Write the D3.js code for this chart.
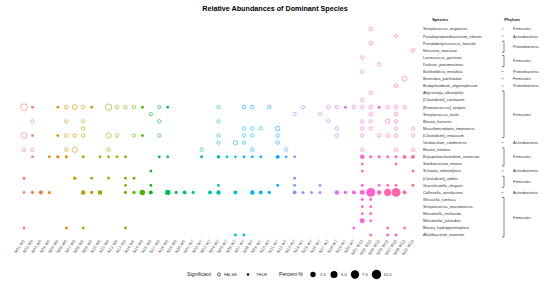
<!DOCTYPE html>
<html>
<head>
<meta charset="utf-8">
<script src="https://cdn.jsdelivr.net/npm/d3@7"></script>
<style>
  body { margin: 0; background: #fff; }
  svg text { font-family: "Liberation Sans", Arial, sans-serif; }
</style>
</head>
<body>
<div class="canva"></div>
<script>
// samples on the x axis (W0, W7, W12 visits)
const samples = [];
for (let i = 1; i <= 20; i++) samples.push("N" + String(i).padStart(2, "0") + " W0");
for (let i = 1; i <= 20; i++) samples.push("N" + String(i).padStart(2, "0") + " W7");
const samplesW12 = ["N01 W12", "N02 W12", "N04 W12", "N05 W12", "N07 W12", "N08 W12", "N10 W12"];
samplesW12.forEach(s => samples.push(s));

const species = [
  "Streptococcus_anginosus", "Pseudopropionibacterium_rubrum", "Pseudobutyricicoccus_faecalis",
  "Neisseria_macacae", "Lactococcus_garvieae", "Dialister_pneumosintes", "Burkholderia_metallica",
  "Breznakia_pachnodae", "Bradyrhizobium_oligotrophicum", "Abyssivirga_alkaniphila",
  "[Clostridium]_cocleatum", "[Ruminococcus]_torques", "Streptococcus_oralis", "Blautia_hansenii",
  "Massiliimicrobiota_timonensis", "[Clostridium]_innocuum", "Varibaculum_cambriense",
  "Blautia_hominis", "Erysipelatoclostridium_ramosum", "Solobacterium_moorei",
  "Schaalia_odontolytica", "[Clostridium]_indolis", "Granulicatella_elegans",
  "Collinsella_aerofaciens", "Weissella_confusa", "Streptococcus_macedonicus",
  "Mitsuokella_multacida", "Mitsuokella_jalaludinii", "Blautia_hydrogenotrophica",
  "Alkalibaculum_marinum"
];

// phylum blocks: [first row, last row, name]
const phyla = [
  [0, 0, "Firmicutes"], [1, 1, "Actinobacteria"], [2, 3, "Proteobacteria"],
  [4, 5, "Firmicutes"], [6, 6, "Proteobacteria"], [7, 7, "Firmicutes"],
  [8, 8, "Proteobacteria"], [9, 15, "Firmicutes"], [16, 16, "Actinobacteria"],
  [17, 19, "Firmicutes"], [20, 20, "Actinobacteria"], [21, 22, "Firmicutes"],
  [23, 23, "Actinobacteria"], [24, 29, "Firmicutes"]
];

// points: [species row, sample column, percent, significant]
const points = [
  [0,41,0.6,0],[1,44,0.6,0],[2,41,0.8,0],[3,46,0.6,0],[4,40,0.6,0],[5,42,0.6,0],
  [6,40,0.6,0],[7,45,2.0,0],[8,44,0.6,0],[9,41,0.6,0],[10,40,0.6,0],
  [11,0,4.5,0],[11,1,0.3,1],[11,4,0.3,1],[11,5,0.8,0],[11,6,2.0,0],[11,7,0.8,0],[11,8,0.3,1],
  [11,10,4.0,0],[11,11,0.6,0],[11,12,0.6,0],[11,13,0.6,0],[11,14,0.3,1],[11,16,0.6,0],[11,17,0.3,1],
  [11,23,0.6,0],[11,26,0.8,0],[11,27,0.8,0],[11,29,0.6,0],[11,33,0.6,0],[11,36,0.6,0],[11,37,0.6,0],
  [11,38,0.4,1],[11,39,0.6,0],[11,40,0.6,0],[11,41,0.6,0],[11,42,0.4,1],[11,43,0.6,0],[11,44,0.6,0],[11,45,0.6,0],
  [12,15,0.6,0],[12,32,0.6,0],[12,35,0.6,0],[12,41,0.6,0],[12,44,0.6,0],
  [13,1,0.6,0],[13,5,0.6,0],[13,7,0.6,0],[13,16,0.6,0],[13,23,0.6,0],[13,36,0.6,0],[13,40,0.6,0],
  [13,41,0.6,0],[13,43,1.5,0],[13,44,0.6,0],
  [14,7,0.6,0],[14,26,0.6,0],[14,27,0.6,0],[14,28,0.6,0],[14,30,1.5,0],[14,37,0.6,0],[14,40,0.6,0],
  [14,41,0.6,0],[14,44,0.6,0],[14,46,0.6,0],
  [15,0,3.0,0],[15,1,0.3,1],[15,4,0.3,1],[15,5,0.8,0],[15,6,0.8,0],[15,7,0.8,0],[15,10,2.5,0],
  [15,11,0.6,0],[15,13,0.6,0],[15,14,0.3,1],[15,16,0.6,0],[15,23,0.6,0],[15,26,0.6,0],[15,27,0.6,0],
  [15,30,0.6,0],[15,37,0.6,0],[15,40,0.6,0],[15,42,0.6,0],[15,43,0.6,0],[15,44,0.6,0],[15,46,0.6,0],
  [16,23,0.6,0],[16,25,1.5,0],[16,26,0.6,0],[16,30,0.6,0],
  [17,0,0.6,0],[17,1,0.6,0],[17,5,0.6,0],[17,6,2.5,0],[17,10,0.6,0],[17,21,0.6,0],[17,27,0.6,0],
  [17,31,0.6,0],[17,40,0.6,0],[17,44,0.6,0],[17,46,0.6,0],
  [18,1,0.3,1],[18,3,0.3,1],[18,4,0.6,1],[18,5,0.4,1],[18,7,0.4,1],[18,9,0.3,1],[18,10,0.3,1],
  [18,11,0.3,1],[18,12,0.3,1],[18,16,0.3,1],[18,17,0.3,1],[18,21,0.4,1],[18,23,0.8,1],[18,24,0.3,1],
  [18,25,0.3,1],[18,26,0.3,1],[18,27,0.3,1],[18,28,0.3,1],[18,30,1.0,1],[18,31,0.3,1],[18,32,0.3,1],
  [18,40,1.5,1],[18,41,0.4,1],[18,42,0.4,1],[18,43,0.4,1],[18,44,0.4,1],[18,45,1.0,1],[18,46,1.0,1],
  [19,40,0.3,1],[19,44,0.3,1],
  [20,15,0.3,1],[20,40,0.3,1],[20,46,0.3,1],
  [21,0,0.4,1],[21,6,0.6,1],[21,8,0.3,1],[21,10,0.3,1],[21,12,0.3,1],[21,13,0.3,1],[21,32,0.3,1],
  [22,12,0.3,1],[22,15,0.3,1],[22,23,0.3,1],[22,30,0.3,1],[22,32,0.3,1],[22,35,0.3,1],[22,40,0.4,1],
  [22,42,0.3,1],[22,43,0.3,1],[22,44,0.3,1],[22,46,0.4,1],
  [23,0,0.3,1],[23,1,0.5,1],[23,2,1.2,1],[23,3,0.4,1],[23,7,1.5,1],[23,8,0.5,1],[23,9,1.5,1],
  [23,12,0.5,1],[23,13,0.6,1],[23,14,2.5,1],[23,15,1.0,1],[23,17,2.5,1],[23,18,0.5,1],[23,19,1.0,1],
  [23,20,0.5,1],[23,22,1.0,1],[23,23,1.5,1],[23,25,1.0,1],[23,27,1.5,1],[23,28,1.0,1],[23,29,0.5,1],
  [23,32,1.0,1],[23,33,0.4,1],[23,34,0.4,1],[23,35,0.4,1],[23,37,1.5,1],[23,38,0.6,1],[23,39,1.0,1],
  [23,40,2.0,1],[23,41,9.0,1],[23,42,1.5,1],[23,43,5.0,1],[23,44,9.0,1],[23,45,1.0,1],
  [24,40,0.3,1],[24,41,0.3,1],[25,40,0.3,1],[25,41,0.3,1],[26,40,0.3,1],[26,41,0.3,1],
  [27,40,2.0,1],[27,41,0.3,1],
  [28,0,0.3,1],[28,5,0.3,1],[28,7,0.3,1],[28,12,0.3,1],[28,39,0.3,1],[28,43,0.3,1],[28,45,0.3,1],
  [29,25,0.3,1],[29,26,0.3,1],[29,41,0.3,1],[29,43,0.3,1],[29,44,0.3,1]
];

const sigLabels = ["FALSE", "TRUE"];
const sizeBreaks = [2.5, 5.0, 7.5, 10.0];

// R style hcl() (polar LUV) -> hex, used for the ggplot hue palette
function hclR(h, c, l) {
  const Xn = 95.047, Yn = 100, Zn = 108.883;
  const un = 4 * Xn / (Xn + 15 * Yn + 3 * Zn), vn = 9 * Yn / (Xn + 15 * Yn + 3 * Zn);
  const hr = h * Math.PI / 180;
  const U = c * Math.cos(hr), V = c * Math.sin(hr);
  const Y = l > 8 ? Yn * Math.pow((l + 16) / 116, 3) : Yn * l / 903.3;
  const up = U / (13 * l) + un, vp = V / (13 * l) + vn;
  const X = 9 * Y * up / (4 * vp);
  const Z = -X / 3 - 5 * Y + 3 * Y / vp;
  const x = X / 100, y = Y / 100, z = Z / 100;
  const lin = [
    3.240479 * x - 1.53715 * y - 0.498535 * z,
    -0.969256 * x + 1.875992 * y + 0.041556 * z,
    0.055648 * x - 0.204043 * y + 1.057311 * z
  ];
  const g = lin.map(v => {
    v = v <= 0.0031308 ? 12.92 * v : 1.055 * Math.pow(v, 1 / 2.4) - 0.055;
    return Math.round(Math.max(0, Math.min(1, v)) * 255);
  });
  return d3.rgb(g[0], g[1], g[2]).formatHex();
}

const n = samples.length;
const hues = d3.range(n).map(i => 15 + i * 360 / n);
const color = d3.scaleOrdinal().domain(samples).range(hues.map(h => hclR(h, 100, 65)));

const svg = d3.select(".canva").append("svg")
  .attr("width", 550)
  .attr("height", 286);

const x = d3.scalePoint().domain(samples).range([24, 413]);
const y = d3.scalePoint().domain(species).range([29, 235]);
const r = d3.scaleSqrt().domain([0, 10]).range([0.7, 4.7]);

// title
svg.append("text")
  .attr("x", 275).attr("y", 10.5)
  .attr("text-anchor", "middle")
  .attr("font-size", 7.2).attr("font-weight", "bold")
  .attr("fill", "#000")
  .text("Relative Abundances of Dominant Species");

// points
const plot = svg.append("g");
plot.selectAll("circle")
  .data(points)
  .enter()
  .append("circle")
  .attr("cx", d => x(samples[d[1]]))
  .attr("cy", d => y(species[d[0]]))
  .attr("r", d => r(d[2]))
  .attr("fill", d => d[3] ? color(samples[d[1]]) : "none")
  .attr("stroke", d => color(samples[d[1]]))
  .attr("stroke-width", d => d[3] ? 0 : 0.6);

// x tick labels
svg.append("g").selectAll("text")
  .data(samples)
  .enter()
  .append("text")
  .attr("transform", d => `translate(${x(d) + 1},241) rotate(-55)`)
  .attr("text-anchor", "end")
  .attr("font-size", 4.2)
  .attr("fill", "#4d4d4d")
  .text(d => d);

// species labels (right side)
svg.append("text")
  .attr("x", 440).attr("y", 21).attr("text-anchor", "middle")
  .attr("font-size", 4.3).attr("font-weight", "bold").attr("fill", "#222")
  .text("Species");
svg.append("g").selectAll("text")
  .data(species)
  .enter()
  .append("text")
  .attr("x", 423)
  .attr("y", d => y(d) + 1.4)
  .attr("font-size", 3.9)
  .attr("fill", "#333")
  .text(d => d);

// phylum column
svg.append("text")
  .attr("x", 512).attr("y", 21).attr("text-anchor", "middle")
  .attr("font-size", 4.3).attr("font-weight", "bold").attr("fill", "#222")
  .text("Phylum");
const ph = svg.append("g");
phyla.forEach(p => {
  const y0 = y(species[p[0]]), y1 = y(species[p[1]]);
  if (p[0] === p[1]) {
    ph.append("line")
      .attr("x1", 501.5).attr("x2", 503.5).attr("y1", y0).attr("y2", y0)
      .attr("stroke", "#333").attr("stroke-width", 0.5);
  } else {
    ph.append("path")
      .attr("d", `M502,${y0 - 2}H504V${y1 + 2}H502`)
      .attr("fill", "none").attr("stroke", "#333").attr("stroke-width", 0.6);
  }
  ph.append("text")
    .attr("x", 513).attr("y", (y0 + y1) / 2 + 1.4)
    .attr("font-size", 3.9).attr("fill", "#333")
    .text(p[2]);
});

// legend
const lg = svg.append("g").attr("transform", "translate(0,274.5)");
lg.append("text").attr("x", 187).attr("y", 1.8)
  .attr("font-size", 5.2).attr("fill", "#222").text("Significant");
lg.selectAll(".sig")
  .data(sigLabels)
  .enter()
  .append("circle")
  .attr("cx", (d, i) => i ? 248 : 219)
  .attr("cy", 0)
  .attr("r", (d, i) => i ? 1.2 : 1.5)
  .attr("fill", (d, i) => i ? "#000" : "none")
  .attr("stroke", "#000")
  .attr("stroke-width", (d, i) => i ? 0 : 0.6);
lg.selectAll(".sigt")
  .data(sigLabels)
  .enter()
  .append("text")
  .attr("x", (d, i) => i ? 256 : 224)
  .attr("y", 1.4)
  .attr("font-size", 4.2).attr("fill", "#333")
  .text(d => d);
lg.append("text").attr("x", 279).attr("y", 1.8)
  .attr("font-size", 5.2).attr("fill", "#222").text("Percent %");
const sizeX = [313, 334, 355, 376.5];
lg.selectAll(".sz")
  .data(sizeBreaks)
  .enter()
  .append("circle")
  .attr("cx", (d, i) => sizeX[i])
  .attr("cy", 0)
  .attr("r", d => r(d))
  .attr("fill", "#000");
lg.selectAll(".szt")
  .data(sizeBreaks)
  .enter()
  .append("text")
  .attr("x", (d, i) => sizeX[i] + 7)
  .attr("y", 1.4)
  .attr("font-size", 4.2).attr("fill", "#333")
  .text(d => d.toFixed(1));
</script>
</body>
</html>
